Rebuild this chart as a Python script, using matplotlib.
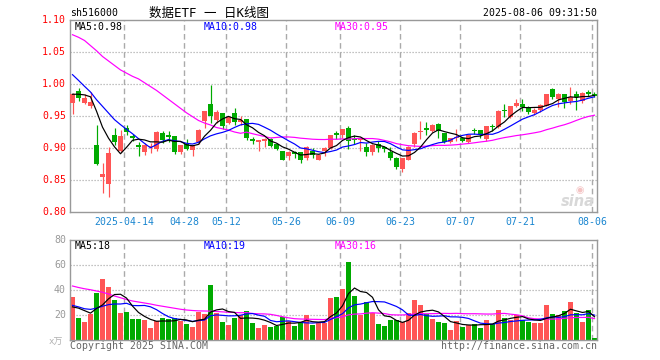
import matplotlib
matplotlib.use("Agg")
import matplotlib.pyplot as plt
import numpy as np
import pandas as pd

# ---------------- data ----------------
holidays = ["2025-04-04", "2025-05-01", "2025-05-02", "2025-05-05", "2025-06-02"]
dates = [d.strftime("%Y-%m-%d") for d in
         pd.bdate_range("2025-03-31", "2025-08-06", freq="C", holidays=holidays)]

opens = [0.971, 0.989, 0.970, 0.965, 0.904, 0.855, 0.843, 0.921, 0.896, 0.931,
         0.919, 0.905, 0.894, 0.902, 0.899, 0.924, 0.920, 0.918, 0.893, 0.906,
         0.897, 0.909, 0.942, 0.969, 0.943, 0.954, 0.939, 0.954, 0.940, 0.946,
         0.914, 0.910, 0.911, 0.914, 0.907, 0.895, 0.888, 0.894, 0.893, 0.884,
         0.896, 0.882, 0.896, 0.900, 0.924, 0.920, 0.932, 0.913, 0.912, 0.902,
         0.893, 0.907, 0.901, 0.894, 0.884, 0.867, 0.882, 0.907, 0.925, 0.932,
         0.927, 0.937, 0.924, 0.910, 0.915, 0.916, 0.910, 0.928, 0.928, 0.914,
         0.935, 0.933, 0.959, 0.949, 0.965, 0.969, 0.964, 0.955, 0.960, 0.966,
         0.992, 0.977, 0.985, 0.973, 0.984, 0.973, 0.988, 0.985]
closes = [0.985, 0.978, 0.978, 0.972, 0.875, 0.860, 0.892, 0.910, 0.918, 0.925,
          0.915, 0.901, 0.904, 0.903, 0.925, 0.912, 0.917, 0.894, 0.904, 0.898,
          0.904, 0.928, 0.958, 0.950, 0.956, 0.935, 0.948, 0.940, 0.944, 0.915,
          0.911, 0.912, 0.914, 0.903, 0.898, 0.882, 0.894, 0.890, 0.881, 0.902,
          0.889, 0.889, 0.900, 0.920, 0.921, 0.929, 0.911, 0.912, 0.913, 0.893,
          0.905, 0.900, 0.898, 0.885, 0.870, 0.884, 0.902, 0.924, 0.927, 0.928,
          0.936, 0.927, 0.910, 0.915, 0.917, 0.911, 0.920, 0.926, 0.920, 0.935,
          0.933, 0.958, 0.958, 0.966, 0.971, 0.964, 0.956, 0.960, 0.967, 0.985,
          0.979, 0.985, 0.972, 0.979, 0.980, 0.986, 0.985, 0.982]
highs = [0.986, 0.993, 0.985, 0.988, 0.936, 0.876, 0.902, 0.931, 0.928, 0.936,
         0.922, 0.910, 0.908, 0.908, 0.926, 0.926, 0.926, 0.918, 0.905, 0.914,
         0.905, 0.930, 0.958, 0.999, 0.959, 0.954, 0.949, 0.962, 0.950, 0.946,
         0.917, 0.913, 0.916, 0.915, 0.908, 0.896, 0.895, 0.895, 0.894, 0.903,
         0.900, 0.890, 0.901, 0.921, 0.927, 0.930, 0.935, 0.920, 0.914, 0.908,
         0.906, 0.911, 0.903, 0.901, 0.886, 0.885, 0.903, 0.925, 0.942, 0.940,
         0.938, 0.939, 0.924, 0.916, 0.929, 0.917, 0.921, 0.932, 0.928, 0.935,
         0.938, 0.960, 0.969, 0.966, 0.976, 0.976, 0.965, 0.962, 0.968, 0.985,
         0.994, 0.986, 0.985, 0.996, 0.989, 0.987, 0.990, 0.988]
lows = [0.953, 0.973, 0.969, 0.963, 0.873, 0.829, 0.823, 0.904, 0.894, 0.921,
        0.911, 0.888, 0.889, 0.892, 0.896, 0.908, 0.910, 0.890, 0.891, 0.897,
        0.887, 0.907, 0.931, 0.939, 0.939, 0.930, 0.937, 0.936, 0.936, 0.913,
        0.906, 0.895, 0.901, 0.902, 0.897, 0.881, 0.882, 0.885, 0.877, 0.881,
        0.884, 0.881, 0.888, 0.898, 0.914, 0.916, 0.898, 0.906, 0.895, 0.888,
        0.889, 0.893, 0.894, 0.881, 0.867, 0.862, 0.881, 0.902, 0.914, 0.920,
        0.925, 0.916, 0.908, 0.908, 0.911, 0.909, 0.908, 0.922, 0.916, 0.911,
        0.927, 0.932, 0.948, 0.947, 0.964, 0.958, 0.953, 0.952, 0.956, 0.965,
        0.976, 0.964, 0.963, 0.968, 0.959, 0.971, 0.981, 0.979]
volumes = [34.7, 17.9, 14.7, 20.8, 37.9, 48.8, 42.4, 32.0, 21.9, 22.7,
           16.8, 16.8, 16.3, 9.9, 15.2, 17.9, 16.5, 17.3, 15.5, 13.1,
           10.7, 22.7, 21.1, 44.0, 21.9, 14.4, 12.3, 17.9, 20.0, 23.5,
           13.9, 9.9, 12.0, 10.7, 11.5, 18.1, 15.5, 11.5, 13.9, 20.0,
           12.3, 13.9, 13.3, 33.9, 34.7, 41.1, 62.7, 35.5, 20.0, 30.7,
           21.9, 12.8, 11.2, 16.3, 16.0, 14.1, 21.3, 32.0, 28.3, 20.8,
           16.8, 14.4, 13.6, 8.0, 15.5, 10.7, 12.3, 12.8, 9.9, 16.0,
           12.8, 24.0, 17.9, 16.0, 20.0, 15.7, 14.7, 13.9, 13.9, 28.3,
           20.8, 20.0, 23.2, 30.7, 21.6, 14.7, 24.0, 1.9]

# moving-average values before the window is complete
price_ma5_head = [0.984, 0.984, 0.983, 0.980]
price_ma10_head = [1.0146, 1.0057, 0.9964, 0.9875, 0.9755, 0.9651, 0.9547, 0.9443, 0.9365]
price_ma30_head = [1.077, 1.073, 1.068, 1.060, 1.052, 1.043, 1.036, 1.029, 1.022, 1.017,
                   1.012, 1.008, 1.002, 0.996, 0.990, 0.983, 0.976, 0.969, 0.962, 0.955,
                   0.949, 0.943, 0.939, 0.936, 0.932, 0.930, 0.928, 0.925, 0.923]
vol_ma5_head = [26.5, 25.5, 23.5, 21.5]
vol_ma10_head = [27.7, 26.5, 25.0, 24.5, 25.5, 27.0, 28.3, 28.8, 28.8]
vol_ma30_head = [43.2, 42.0, 41.0, 40.2, 39.2, 38.2, 36.8, 35.2, 33.8, 32.4,
                 31.2, 30.4, 29.6, 28.8, 27.8, 27.0, 26.2, 25.4, 24.6, 24.0,
                 23.6, 23.3, 23.2, 23.1, 22.8, 22.5, 22.2, 22.0, 21.8]

# values printed in the MA headers of the chart
price_ma_labels = ["MA5:0.98", "MA10:0.98", "MA30:0.95"]
vol_ma_labels = ["MA5:18", "MA10:19", "MA30:16"]

tick_dates = ["2025-04-14", "2025-04-28", "2025-05-12", "2025-05-26", "2025-06-09",
              "2025-06-23", "2025-07-07", "2025-07-21", "2025-08-06"]
tick_labels = ["2025-04-14", "04-28", "05-12", "05-26", "06-09",
               "06-23", "07-07", "07-21", "08-06"]
price_ticks = [0.80, 0.85, 0.90, 0.95, 1.00, 1.05, 1.10]
vol_ticks = [20, 40, 60, 80]


def moving_avg(vals, n, head):
    vals = np.asarray(vals, dtype=float)
    out = list(head)
    for i in range(n - 1, len(vals)):
        out.append(vals[i - n + 1:i + 1].mean())
    return np.array(out)


ma5 = moving_avg(closes, 5, price_ma5_head)
ma10 = moving_avg(closes, 10, price_ma10_head)
ma30 = moving_avg(closes, 30, price_ma30_head)
vma5 = moving_avg(volumes, 5, vol_ma5_head)
vma10 = moving_avg(volumes, 10, vol_ma10_head)
vma30 = moving_avg(volumes, 30, vol_ma30_head)

# ---------------- style ----------------
RED = "#ff5555"
GREEN = "#00aa00"
BORDER = "#999999"
GRID = "#aaaaaa"
MONO = ["DejaVu Sans Mono", "Noto Sans CJK SC"]
PX = 0.72  # 1 px in points at dpi 100

W, H = 660, 360
fig = plt.figure(figsize=(W / 100, H / 100), dpi=100)
fig.patch.set_facecolor("white")


def axes_px(left, top, right, bottom):
    return fig.add_axes([left / W, 1 - bottom / H, (right - left) / W, (bottom - top) / H])


ax = axes_px(70, 20, 597, 212)
axv = axes_px(70, 240, 597, 340)

n = len(closes)
x = np.arange(n)
xlim = (-0.4167, n - 1 + 0.4167)
tick_pos = [dates.index(d) - 0.36 for d in tick_dates]

for a in (ax, axv):
    a.set_xlim(*xlim)
    a.set_xticks([])
    a.set_yticks([])
    for s in a.spines.values():
        s.set_color(BORDER)
        s.set_linewidth(1.4 * PX)
    for tp in tick_pos:
        a.axvline(tp, color=GRID, lw=1.4 * PX, dashes=(4, 2.5), zorder=0.5)

ax.set_ylim(0.80, 1.10)
axv.set_ylim(0, 80)

for t in price_ticks[1:-1]:
    ax.axhline(t, color=GRID, lw=1.2 * PX, dashes=(1, 1.5), zorder=0.5)
for t in vol_ticks[:-1]:
    axv.axhline(t, color=GRID, lw=1.2 * PX, dashes=(1, 1.5), zorder=0.5)

# candles
colors = [RED if c >= o else GREEN for o, c in zip(opens, closes)]
ax.vlines(x, lows, highs, colors=colors, lw=1.2 * PX, zorder=2)
body_bottom = [min(o, c) for o, c in zip(opens, closes)]
body_h = [max(abs(c - o), 0.0017) for o, c in zip(opens, closes)]
ax.bar(x, body_h, bottom=body_bottom, width=0.8, color=colors, linewidth=0, zorder=3)

ax.plot(x, ma30, color="#ff00ff", lw=1.2 * PX, zorder=4)
ax.plot(x, ma10, color="#0000ff", lw=1.2 * PX, zorder=4)
ax.plot(x, ma5, color="black", lw=1.2 * PX, zorder=4)

# volume
axv.bar(x, volumes, width=0.82, color=colors, linewidth=0, zorder=2)
axv.plot(x, vma30, color="#ff00ff", lw=1.2 * PX, zorder=4)
axv.plot(x, vma10, color="#0000ff", lw=1.2 * PX, zorder=4)
axv.plot(x, vma5, color="black", lw=1.2 * PX, zorder=4)

FS = 7.1


def ftext(px, py, s, **kw):
    kw.setdefault("family", MONO)
    kw.setdefault("fontsize", FS)
    fig.text(px / W, 1 - py / H, s, **kw)


# price axis labels
for t in price_ticks:
    ypix = 212 - (t - 0.80) / 0.30 * 192
    ftext(66, ypix, f"{t:.2f}", color="#ff0000", ha="right", va="center")
for t in vol_ticks:
    ypix = 340 - t / 80 * 100
    ftext(66, ypix, f"{t}", color="#999999", ha="right", va="center")
ftext(63, 342, "x万", color="#b0b0b0", ha="right", va="center", fontsize=6.5)

# date labels
for tp, lab in zip(tick_pos, tick_labels):
    xpix = 70 + (tp - xlim[0]) / (xlim[1] - xlim[0]) * 527
    ftext(xpix, 222, lab, color="#1a86d0", ha="center", va="center")

# header
ftext(70, 13, "sh516000", color="black", ha="left", va="center")
ftext(209, 13, "数据ETF 一 日K线图", color="black", ha="center", va="center", fontsize=9)
ftext(597, 13, "2025-08-06 09:31:50", color="black", ha="right", va="center")

# MA labels
ma_colors = ["black", "#0000ff", "#ff00ff"]
ma_x = [75, 204, 335]
for lab, c, px in zip(price_ma_labels, ma_colors, ma_x):
    ftext(px, 27, lab, color=c, ha="left", va="center")
for lab, c, px in zip(vol_ma_labels, ma_colors, ma_x):
    ftext(px, 246, lab, color=c, ha="left", va="center")

# footer
ftext(70, 346, "Copyright 2025 SINA.COM", color="#666666", ha="left", va="center")
ftext(597, 346, "http://finance.sina.com.cn", color="#666666", ha="right", va="center")

# sina watermark
fig.text(578 / W, 1 - 202 / H, "sina", family="DejaVu Sans", fontsize=10.5,
         fontweight="bold", style="italic", color="#d8d8d8", ha="center", va="center")
fig.text(580 / W, 1 - 190 / H, "◉", family="DejaVu Sans", fontsize=7,
         color="#f4c4c4", ha="center", va="center")

fig.savefig("out.png", dpi=100, facecolor="white")
